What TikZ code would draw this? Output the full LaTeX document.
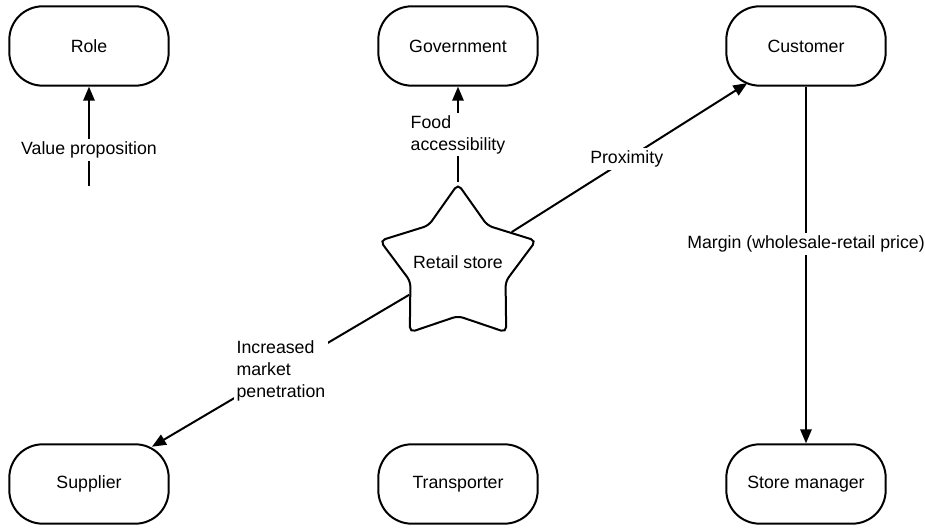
\documentclass[tikz,border=0pt]{standalone}
\usepackage{fontspec}
\setmainfont{Liberation Sans}
\usetikzlibrary{shapes.geometric,arrows.meta}
\begin{document}
\begin{tikzpicture}[x=0.75pt,y=-0.75pt,
  every node/.style={font=\fontsize{13.3pt}{16.5pt}\selectfont},
  rolebox/.style={draw,line width=1.5pt,rounded corners=25pt,
    minimum width=119.5pt,minimum height=59.5pt,inner sep=0pt},
  hub/.style={draw,line width=1.5pt,star,star points=5,star point ratio=1.64,
    minimum size=123pt,inner sep=0pt,rounded corners=4pt},
  link/.style={line width=1.5pt,-{Triangle[length=10.5pt,width=8.5pt]}},
  tag/.style={fill=white,inner sep=2pt,align=left}]
\useasboundingbox (0,0) rectangle (925,530);

% actors
\node[rolebox] (role) at (89,46) {Role};
\node[rolebox] (gov) at (458,46) {Government};
\node[rolebox] (cust) at (806,46) {Customer};
\node[rolebox] (supp) at (89,484) {Supplier};
\node[rolebox] (trans) at (458,484) {Transporter};
\node[rolebox] (mgr) at (806,484) {Store manager};

% central store
\node[hub] (store) at (458,266) {};
\node (storetxt) at (458,262) {Retail store};

% legend arrow
\coordinate (vp) at (89,186);
\draw[link] (vp) -- node[tag,pos=0.36] (vplab) {Value proposition} (role);

% value flows
\draw[link] (store) -- node[tag,pos=0.5] (foodlab) {Food\\accessibility} (gov);
\draw[link,shorten >=-5pt] (store) -- node[tag,pos=0.5] (proxlab) {Proximity} (cust);
\draw[link,shorten >=-5pt] (store) -- node[tag,pos=0.51] (penlab) {Increased\\market\\penetration} (supp);
\draw[link] (cust) -- node[tag,pos=0.44] (marglab) {Margin (wholesale-retail price)} (mgr);
\end{tikzpicture}
\end{document}
